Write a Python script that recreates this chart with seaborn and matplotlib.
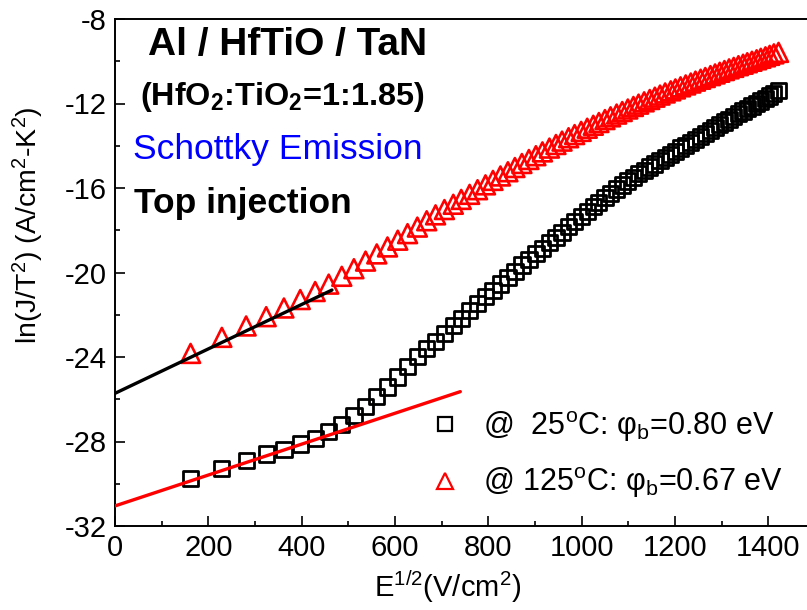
import matplotlib
matplotlib.use("Agg")
import matplotlib.pyplot as plt
from matplotlib.lines import Line2D
from matplotlib.ticker import MultipleLocator
import seaborn as sns
import pandas as pd

# Square root of the applied field, E^(1/2) (V/cm)^(1/2)
sqrt_field = [162, 229, 281, 324, 362, 397, 429, 458, 486, 512,
              537, 561, 584, 606, 627, 648, 668, 687, 706, 725,
              742, 760, 777, 794, 810, 826, 842, 857, 872, 887,
              902, 916, 931, 945, 958, 972, 985, 999, 1012, 1025,
              1037, 1050, 1062, 1075, 1087, 1099, 1111, 1122, 1134, 1146,
              1157, 1168, 1179, 1191, 1201, 1212, 1223, 1234, 1244, 1255,
              1265, 1276, 1286, 1296, 1306, 1316, 1326, 1336, 1346, 1355,
              1365, 1375, 1384, 1394, 1403, 1412, 1422]

# ln(J/T^2) measured at 25 C
ln_jt2_25c = [-29.76, -29.27, -28.91, -28.59, -28.38, -28.12, -27.85, -27.52, -27.18, -26.78,
              -26.34, -25.86, -25.42, -24.95, -24.45, -23.98, -23.60, -23.25, -22.87, -22.50,
              -22.16, -21.81, -21.48, -21.15, -20.85, -20.54, -20.23, -19.94, -19.64, -19.37,
              -19.10, -18.85, -18.58, -18.33, -18.09, -17.84, -17.60, -17.35, -17.12, -16.89,
              -16.67, -16.45, -16.25, -16.05, -15.86, -15.67, -15.49, -15.33, -15.17, -15.01,
              -14.86, -14.71, -14.56, -14.40, -14.26, -14.11, -13.97, -13.83, -13.69, -13.55,
              -13.41, -13.28, -13.14, -13.01, -12.88, -12.75, -12.62, -12.49, -12.36, -12.24,
              -12.12, -12.00, -11.88, -11.76, -11.64, -11.52, -11.40]

# ln(J/T^2) measured at 125 C
ln_jt2_125c = [-23.83, -23.07, -22.53, -22.09, -21.68, -21.28, -20.90, -20.55, -20.18, -19.82,
               -19.46, -19.12, -18.79, -18.47, -18.16, -17.85, -17.55, -17.27, -17.02, -16.77,
               -16.54, -16.30, -16.08, -15.85, -15.64, -15.43, -15.23, -15.03, -14.84, -14.65,
               -14.47, -14.29, -14.11, -13.94, -13.78, -13.62, -13.47, -13.32, -13.17, -13.03,
               -12.90, -12.76, -12.63, -12.50, -12.38, -12.26, -12.14, -12.03, -11.92, -11.81,
               -11.70, -11.60, -11.50, -11.40, -11.31, -11.21, -11.12, -11.03, -10.94, -10.85,
               -10.77, -10.68, -10.60, -10.52, -10.44, -10.36, -10.29, -10.21, -10.14, -10.07,
               -10.00, -9.93, -9.86, -9.79, -9.72, -9.65, -9.58]

# Schottky fit lines (end points)
fit_125c_x = [0, 465]
fit_125c_y = [-25.72, -20.83]
fit_25c_x = [0, 740]
fit_25c_y = [-31.05, -25.64]

legend_labels = [r"@  25$^\mathrm{o}$C: φ$_\mathrm{b}$=0.80 eV",
                 r"@ 125$^\mathrm{o}$C: φ$_\mathrm{b}$=0.67 eV"]

sns.set_theme(style="ticks")
plt.rcParams["font.family"] = ["Liberation Sans", "DejaVu Sans"]
plt.rcParams["mathtext.fontset"] = "custom"
plt.rcParams["mathtext.rm"] = "Liberation Sans"
plt.rcParams["mathtext.it"] = "Liberation Sans:italic"
plt.rcParams["mathtext.bf"] = "Liberation Sans:bold"
plt.rcParams["axes.unicode_minus"] = False
plt.rcParams["text.color"] = "black"
plt.rcParams["axes.labelcolor"] = "black"
plt.rcParams["xtick.color"] = "black"
plt.rcParams["ytick.color"] = "black"

df25 = pd.DataFrame({"x": sqrt_field, "y": ln_jt2_25c})
df125 = pd.DataFrame({"x": sqrt_field, "y": ln_jt2_125c})

fig = plt.figure(figsize=(8.07, 6.10), dpi=100)
ax = fig.add_axes([115 / 807, 84 / 610, 1 - 115 / 807, 507 / 610])

sns.scatterplot(data=df25, x="x", y="y", marker="s", s=120,
                facecolor="none", edgecolor="black", linewidth=2.0, ax=ax, zorder=3)
sns.scatterplot(data=df125, x="x", y="y", marker="^", s=185,
                facecolor="none", edgecolor="red", linewidth=1.9, ax=ax, zorder=3)
sns.lineplot(x=fit_125c_x, y=fit_125c_y, color="black", linewidth=2.4, ax=ax, zorder=4)
sns.lineplot(x=fit_25c_x, y=fit_25c_y, color="red", linewidth=2.4, ax=ax, zorder=4)

ax.set_xlim(0, 1483)
ax.set_ylim(-32, -8)
ax.xaxis.set_major_locator(MultipleLocator(200))
ax.xaxis.set_minor_locator(MultipleLocator(100))
ax.yaxis.set_major_locator(MultipleLocator(4))
ax.yaxis.set_minor_locator(MultipleLocator(2))
ax.tick_params(which="both", direction="in", width=1.2, labelsize=21, pad=6)
ax.tick_params(which="major", length=7)
ax.tick_params(which="minor", length=3.5)
for side in ["left", "bottom", "top"]:
    ax.spines[side].set_linewidth(1.4)
    ax.spines[side].set_color("black")
ax.spines["right"].set_visible(False)

ax.set_xlabel(r"E$^{1/2}$(V/cm$^2$)", fontsize=21)
ax.set_ylabel(r"ln(J/T$^2$) (A/cm$^2$-K$^2$)", fontsize=20.5)
ax.xaxis.set_label_coords(0.48, -0.084)
ax.yaxis.set_label_coords(-0.100, 0.594)

ax.text(0.048, 0.949, "Al / HfTiO / TaN", transform=ax.transAxes,
        fontsize=28, fontweight="bold", va="center", ha="left")
ax.text(0.036, 0.846, r"(HfO$_\mathbf{2}$:TiO$_\mathbf{2}$=1:1.85)", transform=ax.transAxes,
        fontsize=23.3, fontweight="bold", va="center", ha="left")
ax.text(0.026, 0.742, "Schottky Emission", transform=ax.transAxes,
        fontsize=25.5, color="blue", va="center", ha="left")
ax.text(0.027, 0.637, "Top injection", transform=ax.transAxes,
        fontsize=25.5, fontweight="bold", va="center", ha="left")

handles = [Line2D([], [], linestyle="none", marker="s", markersize=9.5,
                  markerfacecolor="none", markeredgecolor="black", markeredgewidth=1.6),
           Line2D([], [], linestyle="none", marker="^", markersize=11.5,
                  markerfacecolor="none", markeredgecolor="red", markeredgewidth=1.6)]
ax.legend(handles, legend_labels, loc="upper left", bbox_to_anchor=(0.455, 0.23),
          frameon=False, fontsize=22, handlelength=1.0, handletextpad=0.75,
          labelspacing=0.7, borderpad=0, borderaxespad=0)

fig.savefig("out.png", dpi=100)
